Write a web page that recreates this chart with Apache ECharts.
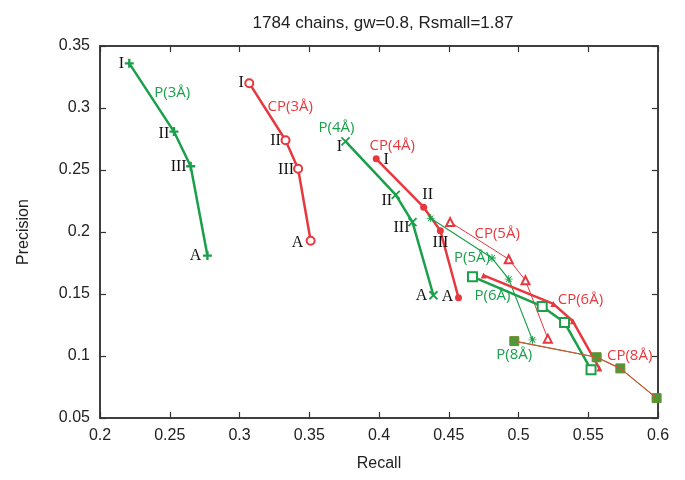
<!DOCTYPE html>
<html>
<head>
<meta charset="utf-8">
<script src="https://cdn.jsdelivr.net/npm/echarts@6/dist/echarts.min.js"></script>
<style>html,body{margin:0;padding:0;background:#fff}#c{width:685px;height:480px}</style>
</head>
<body>
<div id="c"></div>
<script>
// ---- data (recall, precision) ----
const xTicks = [0.2, 0.25, 0.3, 0.35, 0.4, 0.45, 0.5, 0.55, 0.6];
const yTicks = [0.05, 0.1, 0.15, 0.2, 0.25, 0.3, 0.35];

const recallP3 = [0.221, 0.253, 0.265, 0.277];
const precP3   = [0.336, 0.281, 0.253, 0.181];
const recallCP3 = [0.307, 0.333, 0.342, 0.351];
const precCP3   = [0.320, 0.274, 0.251, 0.193];
const recallP4 = [0.376, 0.412, 0.424, 0.439];
const precP4   = [0.273, 0.230, 0.208, 0.149];
const recallCP4 = [0.398, 0.432, 0.444, 0.457];
const precCP4   = [0.259, 0.220, 0.201, 0.147];
const recallP5 = [0.437, 0.481, 0.493, 0.510];
const precP5   = [0.211, 0.179, 0.162, 0.113];
const recallCP5 = [0.451, 0.493, 0.505, 0.521];
const precCP5   = [0.208, 0.178, 0.161, 0.114];
const recallP6 = [0.467, 0.517, 0.533, 0.552];
const precP6   = [0.164, 0.140, 0.127, 0.089];
const recallCP6 = [0.475, 0.525, 0.539, 0.558];
const precCP6   = [0.165, 0.142, 0.128, 0.090];
const recallP8 = [0.497, 0.556, 0.573, 0.599];
const precP8   = [0.112, 0.099, 0.090, 0.066];
const recallCP8 = [0.497, 0.556, 0.573, 0.599];
const precCP8   = [0.112, 0.099, 0.090, 0.066];

const pointNames = ['I', 'II', 'III', 'A'];

// ---- styling ----
const GREEN = '#1aa04a';
const RED = '#e8383f';
const SERIF = '"Liberation Serif", "DejaVu Serif", serif';
const SANS = '"Open Sans", "Noto Sans", sans-serif';
const plusPath = 'path://M3.7,0h2.6v3.7h3.7v2.6h-3.7v3.7h-2.6v-3.7h-3.7v-2.6h3.7z';
const starPath = 'path://M4.4,0h1.2v3.6l2.6,-2.6l0.85,0.85l-2.6,2.6h3.6v1.2h-3.6l2.6,2.6l-0.85,0.85l-2.6,-2.6v3.6h-1.2v-3.6l-2.6,2.6l-0.85,-0.85l2.6,-2.6h-3.6v-1.2h3.6l-2.6,-2.6l0.85,-0.85l2.6,2.6z';

function zip(xs, ys) { return xs.map((x, i) => [x, ys[i]]); }

function curve(name, xs, ys, color, width, symbol, size, romanOffsets, extra) {
  const data = zip(xs, ys).map((v, i) => {
    const item = { value: v };
    if (romanOffsets) {
      item.label = {
        show: true, position: 'inside', offset: romanOffsets[i],
        formatter: pointNames[i], color: '#111', fontFamily: SERIF, fontSize: 16
      };
    }
    return item;
  });
  return Object.assign({
    name: name, type: 'line', data: data, symbol: symbol, symbolSize: size,
    showSymbol: true, z: 3,
    lineStyle: { color: color, width: width },
    itemStyle: { color: color },
    label: { show: false }, animation: false
  }, extra || {});
}

function nameLabel(name, xs, ys, idx, color, offset) {
  return {
    name: name + '-label', type: 'scatter', symbolSize: 1, z: 5,
    itemStyle: { opacity: 0 }, animation: false, silent: true,
    data: zip(xs, ys).map((v, i) => ({
      value: v,
      label: i === idx ? {
        show: true, position: 'inside', offset: offset, formatter: name,
        color: color, fontFamily: SANS, fontSize: 15, opacity: 1
      } : { show: false }
    }))
  };
}

const series = [
  curve('P(3Å)', recallP3, precP3, GREEN, 2.5, plusPath, 9, [[-8,0],[-10,2],[-12,1],[-12,0]]),
  curve('CP(3Å)', recallCP3, precCP3, RED, 2.5, 'emptyCircle', 8, [[-8,0],[-10,1],[-12,1],[-13,2]], { itemStyle: { color: RED, borderWidth: 2 } }),
  curve('P(4Å)', recallP4, precP4, GREEN, 2.5, 'path://M0,0L10,10M10,0L0,10', 8, [[-6,5],[-9,6],[-11,6],[-12,1]], { itemStyle: { color: 'none', borderColor: GREEN, borderWidth: 1.8 } }),
  curve('CP(4Å)', recallCP4, precCP4, RED, 2.5, 'circle', 7, [[10,1],[4,-12],[0,12],[-11,-1]]),
  curve('P(5Å)', recallP5, precP5, GREEN, 1.2, starPath, 8, null),
  curve('CP(5Å)', recallCP5, precCP5, RED, 1, 'emptyTriangle', 8, null, { itemStyle: { color: RED, borderWidth: 1 } }),
  curve('P(6Å)', recallP6, precP6, GREEN, 2.5, 'emptyRect', 9, null, { itemStyle: { color: GREEN, borderWidth: 2 } }),
  curve('CP(6Å)', recallCP6, precCP6, RED, 2.5, 'triangle', 6, null),
  curve('P(8Å)', recallP8, precP8, GREEN, 1, 'rect', 9, null, { itemStyle: { color: '#4a9a3a', borderColor: '#6f8a30', borderWidth: 1 } }),
  curve('CP(8Å)', recallCP8, precCP8, '#db5030', 1.2, 'none', 0, null, { z: 4 }),
  nameLabel('P(3Å)', recallP3, precP3, 0, GREEN, [43, 29]),
  nameLabel('CP(3Å)', recallCP3, precCP3, 0, RED, [41, 24]),
  nameLabel('P(4Å)', recallP4, precP4, 0, GREEN, [-9, -14]),
  nameLabel('CP(4Å)', recallCP4, precCP4, 0, RED, [16, -13]),
  nameLabel('CP(5Å)', recallCP5, precCP5, 0, RED, [47, 12]),
  nameLabel('P(5Å)', recallP5, precP5, 1, GREEN, [-20, 0]),
  nameLabel('P(6Å)', recallP6, precP6, 0, GREEN, [20, 19]),
  nameLabel('CP(6Å)', recallCP6, precCP6, 1, RED, [27, -4]),
  nameLabel('P(8Å)', recallP8, precP8, 0, GREEN, [0, 14]),
  nameLabel('CP(8Å)', recallCP8, precCP8, 1, RED, [33, -2])
];

const fmt = v => String(+v.toFixed(2));
const tickFont = { color: '#222', fontFamily: '"Liberation Sans", Arial, sans-serif', fontSize: 16 };
const axisLine = { show: true, lineStyle: { color: '#333', width: 1.5 } };
const ticks = { show: true, inside: true, length: 6, lineStyle: { color: '#333', width: 1.2 } };

const chart = echarts.init(document.getElementById('c'), null, { renderer: 'canvas' });
chart.setOption({
  animation: false,
  backgroundColor: '#fff',
  title: {
    text: '1784 chains, gw=0.8, Rsmall=1.87', left: 378, top: 10, textAlign: 'center',
    textStyle: { fontFamily: '"Liberation Sans", Arial, sans-serif', fontSize: 17, fontWeight: 'normal', color: '#222' }
  },
  grid: { left: 100, right: 27, top: 46, bottom: 62, show: true, borderColor: '#333', borderWidth: 1.5, backgroundColor: 'transparent' },
  xAxis: [
    { type: 'value', min: xTicks[0], max: xTicks[xTicks.length - 1], interval: 0.05, position: 'bottom',
      name: 'Recall', nameLocation: 'middle', nameGap: 38,
      nameTextStyle: { color: '#222', fontFamily: '"Liberation Sans", Arial, sans-serif', fontSize: 16 },
      axisLine: axisLine, axisTick: ticks, splitLine: { show: false },
      axisLabel: Object.assign({ formatter: fmt, margin: 10 }, tickFont) },
    { type: 'value', min: xTicks[0], max: xTicks[xTicks.length - 1], interval: 0.05, position: 'top',
      axisLine: axisLine, axisTick: ticks, splitLine: { show: false }, axisLabel: { show: false } }
  ],
  yAxis: [
    { type: 'value', min: yTicks[0], max: yTicks[yTicks.length - 1], interval: 0.05, position: 'left',
      name: 'Precision', nameLocation: 'middle', nameGap: 68,
      nameTextStyle: { color: '#222', fontFamily: '"Liberation Sans", Arial, sans-serif', fontSize: 16 },
      axisLine: axisLine, axisTick: ticks, splitLine: { show: false },
      axisLabel: Object.assign({ formatter: fmt, margin: 10 }, tickFont) },
    { type: 'value', min: yTicks[0], max: yTicks[yTicks.length - 1], interval: 0.05, position: 'right',
      axisLine: axisLine, axisTick: ticks, splitLine: { show: false }, axisLabel: { show: false } }
  ],
  series: series
});
</script>
</body>
</html>
